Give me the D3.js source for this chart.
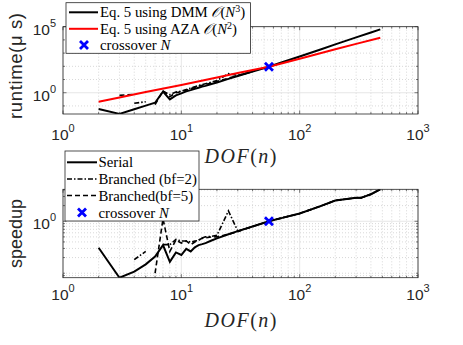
<!DOCTYPE html>
<html><head><meta charset="utf-8">
<script src="https://cdn.jsdelivr.net/npm/d3@7"></script>
<style>html,body{margin:0;padding:0;background:#fff;} svg{display:block;}</style>
</head><body>
<svg id="c" width="463" height="345"></svg>
<script>
// ---------- data ----------
const xTickLabels = ["0","1","2","3"];            // exponents of 10 on x
const topYTickLabels = ["0","5"];                 // exponents of 10 on runtime axis
const botYTickLabels = ["0"];                     // exponents of 10 on speedup axis

// top: runtime (microseconds)
const dmmN    = [2,3,4,5,6,7,8,9,10,11,12,13,14,15,16,18,20,25,30,40,55,70,100,150,200,300,400,480];
const dmmT    = [0.059,0.025,0.056,0.105,0.174,1.2,0.316,0.63,0.89,1.26,1.58,2.0,2.4,2.9,3.3,4.6,6.0,11.2,18.6,40,93,195,560,1900,4570,15500,36300,63000];
const azaN    = [2,3,5,10,20,30,55,100,200,300,480];
const azaT    = [0.209,0.437,1.12,3.8,14.1,31.6,93,380,1950,5000,14800];
const topBf2N = [4,5,6,7,8,9,10,12,14,16,18,20,25,30,40];
const topBf2T = [0.158,0.209,null,1.32,0.71,1.12,1.32,2.24,3.55,4.8,6.3,8.3,28.2,20,40];
const topBf5N = [3,4,5,6,7,8,9,10,12,14,16,18,20,25,30,40];
const topBf5T = [0.63,0.76,null,0.126,1.41,0.5,1.0,1.2,2.0,3.16,4.17,5.5,7.2,12.6,20,40];

// bottom: speedup
const serN = [2,3,4,5,6,7,8,9,10,11,12,13,14,15,16,18,20,25,30,40,55,70,100,150,200,250,300,330,400,480];
const serS = [0.309,0.082,0.107,0.148,0.209,0.347,0.166,0.251,0.224,0.295,0.263,0.316,0.347,0.363,0.38,0.427,0.468,0.562,0.646,0.794,1.0,1.15,1.41,1.95,2.51,2.69,2.82,2.82,3.31,4.12];
const bf2N = [4,5,6,7,8,9,10,11,12,13,14,15,16,18,20,25,30,40,55,70,100,150,200,250,300,330,400,480];
const bf2S = [0.182,0.263,null,0.355,0.355,0.447,0.417,0.417,0.398,0.417,0.427,0.479,0.501,0.513,0.537,1.58,0.646,0.794,1.0,1.15,1.41,1.95,2.51,2.69,2.82,2.82,3.31,4.12];
const bf5N = [6,7,8,9,10,11,12,13,14,15,16,18,20,25,30,40,55,70,100,150,200,250,300,330,400,480];
const bf5S = [0.1,1.12,0.263,0.437,0.38,0.417,0.355,0.398,0.437,0.468,0.479,0.501,0.501,0.562,0.631,0.794,1.0,1.15,1.41,1.95,2.51,2.69,2.82,2.82,3.31,4.12];

const crossN = 55, crossT = 93, crossS = 1.0;

const topLegend = ["Eq. 5 using DMM ", "Eq. 5 using AZA ", "crossover "];
const botLegend = ["Serial", "Branched (bf=2)", "Branched(bf=5)", "crossover "];

// ---------- layout ----------
const svg = d3.select("#c");
const L = 63, R = 418;
const top1 = 26.7, bot1 = 114, top2 = 189.3, bot2 = 277.7;
const sans = "'Liberation Sans', Arial, Helvetica, sans-serif";
const serif = "'Liberation Serif', 'Times New Roman', serif";
const axCol = "#262626";

const x = d3.scaleLog().domain([1, 1000]).range([L, R]);
const y1 = d3.scaleLog().domain([0.0245, 1e5]).range([bot1, top1]);
const y2 = d3.scaleLog().domain([0.082, 4.12]).range([bot2, top2]);

function zip(a, b){ return a.map((v,i)=>({x:v, y:b[i]})); }

function minorVals(domain){
  const [a,b] = domain; const out=[];
  for(let e=Math.floor(Math.log10(a)); e<=Math.ceil(Math.log10(b)); e++){
    for(let k=1;k<10;k++){ const v=k*Math.pow(10,e); if(v>=a*0.9999 && v<=b*1.0001) out.push(v); }
  }
  return out;
}

function drawAxes(yScale, yTop, yBot, yMajor, yMinor, clipId){
  const g = svg.append("g");
  svg.append("clipPath").attr("id", clipId).append("rect")
    .attr("x", L).attr("y", yTop).attr("width", R-L).attr("height", yBot-yTop);
  const xMaj = [1,10,100,1000];
  const xMin = minorVals([1,1000]).filter(v=>!xMaj.includes(v));
  g.selectAll(null).data(xMin).enter().append("line")
    .attr("x1",d=>x(d)).attr("x2",d=>x(d)).attr("y1",yTop).attr("y2",yBot)
    .attr("stroke","#bdbdbd").attr("stroke-width",0.6).attr("stroke-dasharray","1,2");
  g.selectAll(null).data(yMinor).enter().append("line")
    .attr("x1",L).attr("x2",R).attr("y1",d=>yScale(d)).attr("y2",d=>yScale(d))
    .attr("stroke","#bdbdbd").attr("stroke-width",0.6).attr("stroke-dasharray","1,2");
  g.selectAll(null).data(xMaj).enter().append("line")
    .attr("x1",d=>x(d)).attr("x2",d=>x(d)).attr("y1",yTop).attr("y2",yBot)
    .attr("stroke","#e0e0e0").attr("stroke-width",0.8);
  g.selectAll(null).data(yMajor).enter().append("line")
    .attr("x1",L).attr("x2",R).attr("y1",d=>yScale(d)).attr("y2",d=>yScale(d))
    .attr("stroke","#e0e0e0").attr("stroke-width",0.8);
  return g;
}

function drawFrame(yScale, yTop, yBot, yMajor, yMinor, xLabY){
  const g = svg.append("g");
  const xMaj = [1,10,100,1000];
  const xMin = minorVals([1,1000]).filter(v=>!xMaj.includes(v));
  const tk = (arr, len) => {
    arr.forEach(v=>{
      g.append("line").attr("x1",x(v)).attr("x2",x(v)).attr("y1",yBot).attr("y2",yBot-len).attr("stroke",axCol).attr("stroke-width",0.6);
      g.append("line").attr("x1",x(v)).attr("x2",x(v)).attr("y1",yTop).attr("y2",yTop+len).attr("stroke",axCol).attr("stroke-width",0.6);
    });
  };
  tk(xMaj, 3.5); tk(xMin, 2);
  const tky = (arr, len) => {
    arr.forEach(v=>{
      g.append("line").attr("x1",L).attr("x2",L+len).attr("y1",yScale(v)).attr("y2",yScale(v)).attr("stroke",axCol).attr("stroke-width",0.6);
      g.append("line").attr("x1",R).attr("x2",R-len).attr("y1",yScale(v)).attr("y2",yScale(v)).attr("stroke",axCol).attr("stroke-width",0.6);
    });
  };
  tky(yMajor, 3.5); tky(yMinor, 2);
  g.append("rect").attr("x",L).attr("y",yTop).attr("width",R-L).attr("height",yBot-yTop)
    .attr("fill","none").attr("stroke",axCol).attr("stroke-width",0.8);
  xMaj.forEach((v,i)=>{
    const t = g.append("text").attr("x",x(v)).attr("y",yBot+xLabY).attr("text-anchor","middle")
      .attr("font-family",sans).attr("font-size",15.5).attr("fill",axCol);
    t.append("tspan").text("10");
    t.append("tspan").attr("dy",-8).attr("font-size",11).text(xTickLabels[i]);
  });
  return g;
}

function yTickLabels(g, yScale, vals, labels){
  vals.forEach((v,i)=>{
    const t = g.append("text").attr("x",L-7).attr("y",yScale(v)+8).attr("text-anchor","end")
      .attr("font-family",sans).attr("font-size",15.5).attr("fill",axCol);
    t.append("tspan").text("10");
    t.append("tspan").attr("dy",-8).attr("font-size",11).text(labels[i]);
  });
}

function line(yScale){
  return d3.line().defined(d=>d.y!=null).x(d=>x(d.x)).y(d=>yScale(d.y));
}

function drawX(g, cx, cy){
  const s = 4;
  g.append("path").attr("d",`M${cx-s},${cy-s}L${cx+s},${cy+s}M${cx-s},${cy+s}L${cx+s},${cy-s}`)
    .attr("stroke","#0000ff").attr("stroke-width",2.8).attr("fill","none");
}

// ---------- top chart ----------
const topMinorY = [0.1,10,100,1000,10000];
drawAxes(y1, top1, bot1, [1,1e5], topMinorY, "clip1");
const d1 = svg.append("g").attr("clip-path","url(#clip1)");
d1.append("path").datum(zip(topBf5N, topBf5T)).attr("d", line(y1)).attr("fill","none")
  .attr("stroke","#000").attr("stroke-width",1.6).attr("stroke-dasharray","5,3");
d1.append("path").datum(zip(topBf2N, topBf2T)).attr("d", line(y1)).attr("fill","none")
  .attr("stroke","#000").attr("stroke-width",1.6).attr("stroke-dasharray","5,2,1.5,2");
d1.append("path").datum(zip(dmmN, dmmT)).attr("d", line(y1)).attr("fill","none")
  .attr("stroke","#000").attr("stroke-width",2);
d1.append("path").datum(zip(azaN, azaT)).attr("d", line(y1)).attr("fill","none")
  .attr("stroke","#ff0000").attr("stroke-width",2);
drawX(d1, x(crossN), y1(crossT));
const f1 = drawFrame(y1, top1, bot1, [1,1e5], topMinorY, 26);
yTickLabels(f1, y1, [1,1e5], topYTickLabels);

// ---------- bottom chart ----------
const botMinorY = minorVals([0.082,4.12]).filter(v=>v!==1);
drawAxes(y2, top2, bot2, [1], botMinorY, "clip2");
const d2 = svg.append("g").attr("clip-path","url(#clip2)");
d2.append("path").datum(zip(bf5N, bf5S)).attr("d", line(y2)).attr("fill","none")
  .attr("stroke","#000").attr("stroke-width",1.6).attr("stroke-dasharray","5,3");
d2.append("path").datum(zip(bf2N, bf2S)).attr("d", line(y2)).attr("fill","none")
  .attr("stroke","#000").attr("stroke-width",1.6).attr("stroke-dasharray","5,2,1.5,2");
d2.append("path").datum(zip(serN, serS)).attr("d", line(y2)).attr("fill","none")
  .attr("stroke","#000").attr("stroke-width",2);
drawX(d2, x(crossN), y2(crossS));
const f2 = drawFrame(y2, top2, bot2, [1], botMinorY, 22);
yTickLabels(f2, y2, [1], botYTickLabels);

// ---------- axis labels ----------
function xLabel(yb){
  const t = svg.append("text").attr("x",(L+R)/2).attr("y",yb).attr("text-anchor","middle")
    .attr("font-family",serif).attr("font-style","italic").attr("font-size",20).attr("fill",axCol)
    .attr("textLength",72).attr("lengthAdjust","spacing");
  t.append("tspan").text("DOF");
  t.append("tspan").attr("font-style","normal").text("(");
  t.append("tspan").text("n");
  t.append("tspan").attr("font-style","normal").text(")");
}
xLabel(163);
xLabel(327);

svg.append("text").attr("transform",`translate(22,66) rotate(-90)`)
  .attr("text-anchor","middle").attr("font-family",sans).attr("font-size",18.5).attr("fill",axCol)
  .attr("textLength",106).attr("lengthAdjust","spacing")
  .text("runtime(\u03bc s)");
svg.append("text").attr("transform",`translate(22,${(top2+bot2)/2}) rotate(-90)`)
  .attr("text-anchor","middle").attr("font-family",sans).attr("font-size",18).attr("fill",axCol)
  .text("speedup");

// ---------- legends ----------
function legendBox(x0,y0,w,h){
  svg.append("rect").attr("x",x0).attr("y",y0).attr("width",w).attr("height",h)
    .attr("fill","#fff").attr("stroke",axCol).attr("stroke-width",0.8);
}
function legText(x0, yb, str, mathPart){
  const t = svg.append("text").attr("x",x0).attr("y",yb).attr("font-family",serif)
    .attr("font-size",14.8).attr("fill","#000");
  t.append("tspan").text(str);
  if(mathPart) mathPart(t);
  return t;
}
legendBox(66, 2.7, 184.5, 50.6);
const tl = [12.3, 28.8, 45];
svg.append("line").attr("x1",69).attr("x2",98).attr("y1",tl[0]).attr("y2",tl[0]).attr("stroke","#000").attr("stroke-width",2);
svg.append("line").attr("x1",69).attr("x2",98).attr("y1",tl[1]).attr("y2",tl[1]).attr("stroke","#ff0000").attr("stroke-width",2);
drawX(svg, 84, tl[2]);
function bigO(exp){
  return t=>{
    t.append("tspan").attr("font-family","'DejaVu Serif', serif").attr("font-style","italic").text("\ud835\udcaa");
    t.append("tspan").text("(");
    t.append("tspan").attr("font-style","italic").text("N");
    t.append("tspan").attr("dy",-5).attr("font-size",10).text(exp);
    t.append("tspan").attr("dy",5).text(")");
  };
}
legText(100, tl[0]+5, topLegend[0], bigO("3"));
legText(100, tl[1]+5, topLegend[1], bigO("2"));
legText(100, tl[2]+5, topLegend[2], t=>{t.append("tspan").attr("font-style","italic").text("N");});

legendBox(65, 151, 134, 70);
const bl = [162.3, 179, 195.5, 212.5];
svg.append("line").attr("x1",67).attr("x2",97).attr("y1",bl[0]).attr("y2",bl[0]).attr("stroke","#000").attr("stroke-width",2);
svg.append("line").attr("x1",67).attr("x2",97).attr("y1",bl[1]).attr("y2",bl[1]).attr("stroke","#000").attr("stroke-width",1.6).attr("stroke-dasharray","5,2,1.5,2");
svg.append("line").attr("x1",67).attr("x2",97).attr("y1",bl[2]).attr("y2",bl[2]).attr("stroke","#000").attr("stroke-width",1.6).attr("stroke-dasharray","5,3");
drawX(svg, 82, bl[3]);
legText(98.5, bl[0]+5, botLegend[0]);
legText(98.5, bl[1]+5, botLegend[1]);
legText(98.5, bl[2]+5, botLegend[2]);
legText(98.5, bl[3]+5, botLegend[3], t=>{t.append("tspan").attr("font-style","italic").text("N");});
</script>
</body></html>
